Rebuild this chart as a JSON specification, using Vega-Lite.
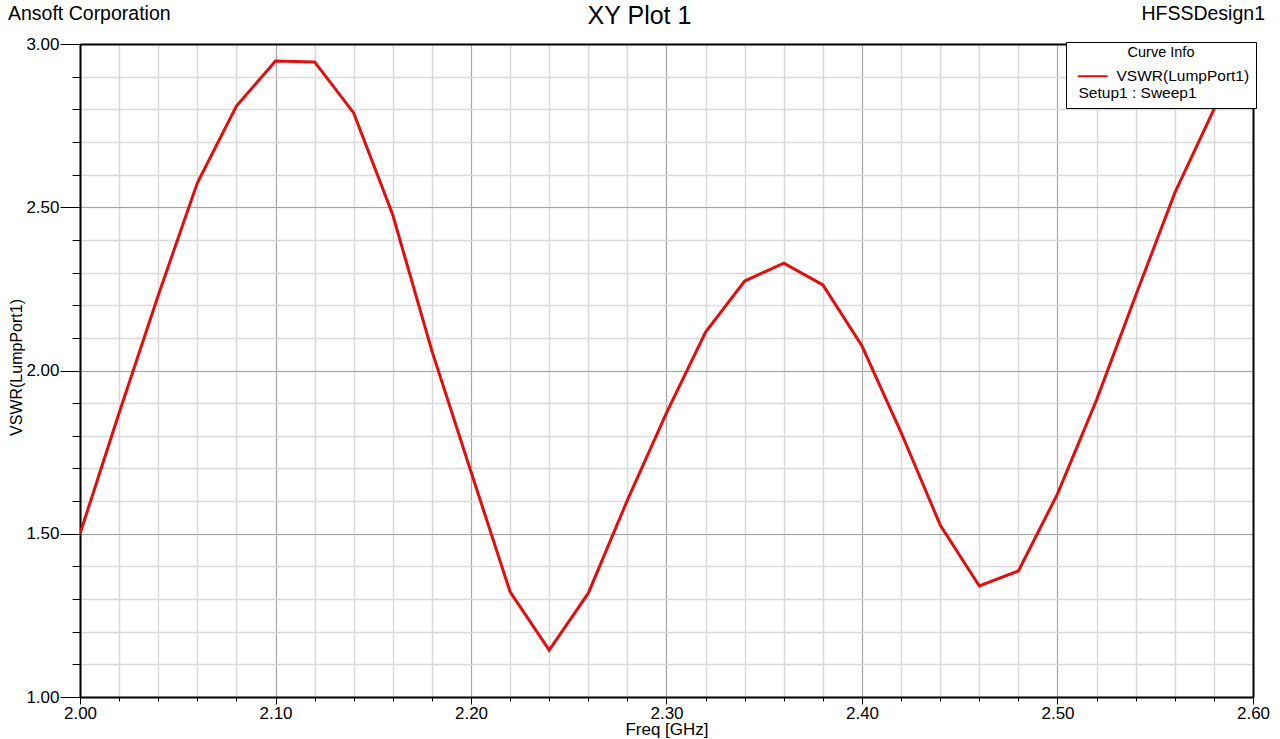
{
  "$schema": "https://vega.github.io/schema/vega-lite/v6.json",
  "width": 1173,
  "height": 653,
  "autosize": "none",
  "padding": {"left": 80, "top": 44, "right": 27, "bottom": 42},
  "background": "white",
  "title": {
    "text": "XY Plot 1",
    "anchor": "middle",
    "frame": "group",
    "dx": -27,
    "dy": 37,
    "offset": 12,
    "font": "Liberation Sans",
    "fontSize": 25,
    "fontWeight": "normal",
    "color": "black"
  },
  "config": {
    "view": {"stroke": null},
    "font": "Liberation Sans"
  },
  "data": {
    "values": [
      {"freq": 2.00, "vswr": 1.50},
      {"freq": 2.02, "vswr": 1.87},
      {"freq": 2.04, "vswr": 2.23},
      {"freq": 2.06, "vswr": 2.574},
      {"freq": 2.08, "vswr": 2.81},
      {"freq": 2.10, "vswr": 2.948},
      {"freq": 2.12, "vswr": 2.945},
      {"freq": 2.14, "vswr": 2.789},
      {"freq": 2.16, "vswr": 2.476},
      {"freq": 2.18, "vswr": 2.06},
      {"freq": 2.20, "vswr": 1.69},
      {"freq": 2.22, "vswr": 1.322},
      {"freq": 2.24, "vswr": 1.144},
      {"freq": 2.26, "vswr": 1.318},
      {"freq": 2.28, "vswr": 1.603},
      {"freq": 2.30, "vswr": 1.87},
      {"freq": 2.32, "vswr": 2.118},
      {"freq": 2.34, "vswr": 2.274},
      {"freq": 2.36, "vswr": 2.329},
      {"freq": 2.38, "vswr": 2.262},
      {"freq": 2.40, "vswr": 2.075},
      {"freq": 2.42, "vswr": 1.81},
      {"freq": 2.44, "vswr": 1.527},
      {"freq": 2.46, "vswr": 1.34},
      {"freq": 2.48, "vswr": 1.386},
      {"freq": 2.50, "vswr": 1.622},
      {"freq": 2.52, "vswr": 1.91},
      {"freq": 2.54, "vswr": 2.23},
      {"freq": 2.56, "vswr": 2.544},
      {"freq": 2.58, "vswr": 2.80},
      {"freq": 2.60, "vswr": 3.06}
    ]
  },
  "layer": [
    {
      "mark": {"type": "line", "strokeOpacity": 0},
      "encoding": {
        "x": {
          "field": "freq", "type": "quantitative",
          "scale": {"domain": [2.0, 2.6], "nice": false, "zero": false},
          "axis": {
            "orient": "bottom",
            "values": [2.0, 2.02, 2.04, 2.06, 2.08, 2.1, 2.12, 2.14, 2.16, 2.18, 2.2, 2.22, 2.24, 2.26, 2.28, 2.3, 2.32, 2.34, 2.36, 2.38, 2.4, 2.42, 2.44, 2.46, 2.48, 2.5, 2.52, 2.54, 2.56, 2.58, 2.6],
            "labels": false, "domain": false, "ticks": true, "tickSize": 4, "tickColor": "black",
            "grid": true, "gridColor": "#d9d9d9", "gridWidth": 1.5, "title": null
          }
        },
        "y": {
          "field": "vswr", "type": "quantitative",
          "scale": {"domain": [1, 3], "nice": false, "zero": false},
          "axis": {
            "orient": "left",
            "values": [1.0, 1.1, 1.2, 1.3, 1.4, 1.5, 1.6, 1.7, 1.8, 1.9, 2.0, 2.1, 2.2, 2.3, 2.4, 2.5, 2.6, 2.7, 2.8, 2.9, 3.0],
            "labels": false, "domain": false, "ticks": true, "tickSize": 8, "tickColor": "black",
            "grid": true, "gridColor": "#d9d9d9", "gridWidth": 1.5, "title": null
          }
        }
      }
    },
    {
      "mark": {"type": "line", "strokeWidth": 3, "clip": true},
      "encoding": {
        "x": {
          "field": "freq", "type": "quantitative",
          "scale": {"domain": [2.0, 2.6], "nice": false, "zero": false},
          "axis": {
            "orient": "bottom",
            "values": [2.0, 2.1, 2.2, 2.3, 2.4, 2.5, 2.6],
            "format": ".2f",
            "grid": true, "gridColor": "#a6a6a6", "gridWidth": 1,
            "ticks": true, "tickSize": 7, "tickColor": "black",
            "domain": true, "domainColor": "black", "domainWidth": 2,
            "labelFont": "Liberation Sans", "labelFontSize": 17, "labelColor": "black",
            "labelPadding": 1, "labelFlush": false, "labelOverlap": false,
            "title": "Freq [GHz]", "titleFont": "Liberation Sans", "titleFontSize": 17,
            "titleFontWeight": "normal", "titleColor": "black",
            "titleY": 37, "titleBaseline": "alphabetic"
          }
        },
        "y": {
          "field": "vswr", "type": "quantitative",
          "scale": {"domain": [1, 3], "nice": false, "zero": false},
          "axis": {
            "orient": "left",
            "values": [1.0, 1.5, 2.0, 2.5, 3.0],
            "format": ".2f",
            "grid": true, "gridColor": "#a6a6a6", "gridWidth": 1,
            "ticks": true, "tickSize": 20, "tickColor": "black",
            "domain": true, "domainColor": "black", "domainWidth": 2,
            "labelFont": "Liberation Sans", "labelFontSize": 17, "labelColor": "black",
            "labelPadding": 1, "labelOverlap": false, "labelFlush": false,
            "title": "VSWR(LumpPort1)", "titleFont": "Liberation Sans", "titleFontSize": 16,
            "titleFontWeight": "normal", "titleColor": "black",
            "titleX": -59, "titleY": 323, "titleBaseline": "alphabetic", "titleAlign": "center"
          }
        },
        "color": {
          "datum": "VSWR(LumpPort1)",
          "scale": {"domain": ["VSWR(LumpPort1)", "Setup1 : Sweep1"], "range": ["#e40d0d", "rgba(0,0,0,0)"]},
          "legend": {
            "orient": "none", "legendX": 986, "legendY": -2,
            "title": "Curve Info", "titleAnchor": "middle", "titleFont": "Liberation Sans",
            "titleFontSize": 14.5, "titleFontWeight": "normal", "titleColor": "black", "titlePadding": 6,
            "labelFont": "Liberation Sans", "labelFontSize": 15.5, "labelColor": "black",
            "labelOffset": 29, "labelLimit": 300,
            "symbolType": "M-0.333,0H4.667", "symbolSize": 144, "symbolStrokeWidth": 2,
            "rowPadding": -6, "padding": 6,
            "fillColor": "white", "strokeColor": "black", "cornerRadius": 0,
            "encode": {
              "labels": {"update": {"dx": {"signal": "datum.value === 'Setup1 : Sweep1' ? -38 : 0"}}},
              "title": {"update": {"dy": {"value": -2}}}
            }
          }
        }
      }
    },
    {
      "mark": {"type": "line", "strokeOpacity": 0},
      "encoding": {
        "x": {
          "field": "freq", "type": "quantitative",
          "axis": {"orient": "top", "domain": true, "domainColor": "black", "domainWidth": 2, "ticks": false, "labels": false, "grid": false, "title": null}
        },
        "y": {
          "field": "vswr", "type": "quantitative",
          "axis": {"orient": "right", "domain": true, "domainColor": "black", "domainWidth": 2, "ticks": false, "labels": false, "grid": false, "title": null}
        }
      }
    },
    {
      "data": {"values": [{"t": "Ansoft Corporation"}]},
      "mark": {"type": "text", "align": "left", "baseline": "alphabetic", "dx": -72, "dy": -24, "font": "Liberation Sans", "fontSize": 19.5, "color": "black"},
      "encoding": {
        "x": {"datum": 2.0, "type": "quantitative", "axis": null},
        "y": {"datum": 3.0, "type": "quantitative", "axis": null},
        "text": {"field": "t"}
      }
    },
    {
      "data": {"values": [{"t": "HFSSDesign1"}]},
      "mark": {"type": "text", "align": "right", "baseline": "alphabetic", "dx": 12, "dy": -24, "font": "Liberation Sans", "fontSize": 19.5, "color": "black"},
      "encoding": {
        "x": {"datum": 2.6, "type": "quantitative", "axis": null},
        "y": {"datum": 3.0, "type": "quantitative", "axis": null},
        "text": {"field": "t"}
      }
    }
  ],
  "resolve": {"axis": {"x": "independent", "y": "independent"}}
}
